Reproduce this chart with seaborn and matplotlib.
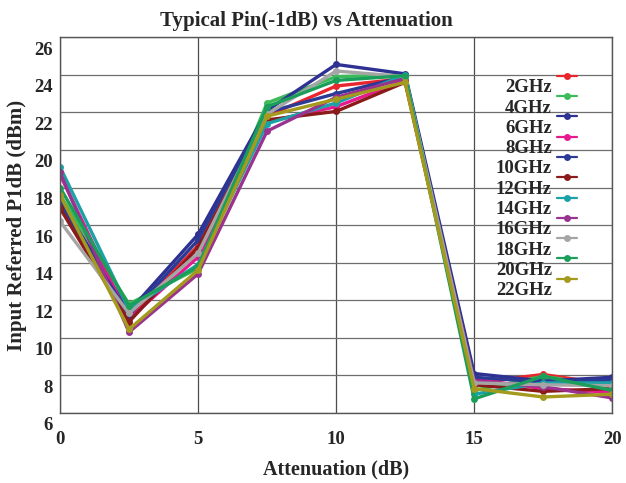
import matplotlib
matplotlib.use("Agg")
import matplotlib.pyplot as plt
import matplotlib.transforms as mtransforms
import pandas as pd
import seaborn as sns

# attenuation settings (dB)
attenuation = [0, 2.5, 5, 7.5, 10, 12.5, 15, 17.5, 20]
freqs = ["2GHz", "4GHz", "6GHz", "8GHz", "10GHz", "12GHz",
         "14GHz", "16GHz", "18GHz", "20GHz", "22GHz"]

# input referred P1dB (dBm)
p1db_2 = [17.1, 11.1, 14.9, 21.8, 23.4, 23.8, 7.6, 8.05, 7.5]
p1db_4 = [17.6, 11.8, 13.7, 22.5, 23.9, 24.0, 7.2, 7.95, 7.4]
p1db_6 = [17.3, 11.4, 15.5, 22.1, 24.55, 24.05, 8.1, 7.7, 7.9]
p1db_8 = [18.7, 11.0, 14.3, 21.5, 22.3, 23.7, 7.8, 7.3, 7.1]
p1db_10 = [17.2, 11.2, 15.2, 22.0, 23.0, 23.9, 7.9, 7.65, 7.75]
p1db_12 = [16.9, 10.85, 14.8, 21.6, 22.05, 23.6, 7.5, 7.15, 7.3]
p1db_14 = [19.1, 11.5, 13.9, 21.4, 22.5, 24.0, 7.0, 7.6, 7.6]
p1db_16 = [18.8, 10.3, 13.4, 21.0, 22.8, 23.8, 7.7, 7.4, 6.8]
p1db_18 = [16.2, 11.3, 14.5, 21.9, 24.2, 23.9, 7.6, 7.5, 7.45]
p1db_20 = [18.0, 11.7, 13.8, 22.3, 23.7, 23.95, 6.75, 7.95, 7.2]
p1db_22 = [17.6, 10.45, 13.6, 21.8, 22.7, 23.6, 7.3, 6.85, 7.0]

colors = ["#e8262d", "#3dbb5a", "#2e3192", "#e6198f", "#2a3a95", "#8b1a1a",
          "#1ba1a6", "#99338f", "#a5a5a5", "#1b9e5a", "#a39a1e"]

series = [p1db_2, p1db_4, p1db_6, p1db_8, p1db_10, p1db_12,
          p1db_14, p1db_16, p1db_18, p1db_20, p1db_22]

rows = []
for f, vals in zip(freqs, series):
    for a, v in zip(attenuation, vals):
        rows.append({"freq": f, "atten": a, "p1db": v})
df = pd.DataFrame(rows)

sns.set_style("white")
plt.rcParams["font.family"] = ["Liberation Serif", "DejaVu Serif"]
plt.rcParams["font.weight"] = "bold"

fig = plt.figure(figsize=(6.26, 4.83), dpi=100)
ax = fig.add_axes([0.0958, 0.145, 0.978 - 0.0958, 0.923 - 0.145])

sns.lineplot(data=df, x="atten", y="p1db", hue="freq", hue_order=freqs,
             palette=colors, marker="o", markersize=5, markeredgewidth=0,
             linewidth=2.4, sort=False, legend=False, ax=ax)

ax.set_xlim(0, 20)
ax.set_ylim(6, 26)
ax.set_xticks([0, 5, 10, 15, 20])
ax.set_yticks(range(6, 27, 2))
for x in [0, 5, 10, 15, 20]:
    ax.axvline(x, color="#4d4d4d", lw=0.9, zorder=0)
for y in range(6, 27, 2):
    ax.axhline(y, color="#6e6e6e", lw=0.9, zorder=0)
for s in ax.spines.values():
    s.set_color("#555555")
    s.set_linewidth(1)

ax.tick_params(axis="x", length=0, pad=13, labelsize=13.5)
ax.tick_params(axis="y", length=0, pad=5, labelsize=13.5)
offset = mtransforms.ScaledTranslation(0, -0.11, fig.dpi_scale_trans)
for lab in ax.get_yticklabels():
    lab.set_transform(lab.get_transform() + offset)
    lab.set_fontweight("bold")
for lab in ax.get_xticklabels():
    lab.set_fontweight("bold")

ax.set_xlabel("Attenuation (dB)", fontsize=14.5, fontweight="bold", labelpad=8)
ax.set_ylabel("Input Referred P1dB (dBm)", fontsize=15, fontweight="bold", labelpad=5)
fig.suptitle("Typical Pin(-1dB) vs Attenuation", x=0.49, y=0.978,
             fontsize=15, fontweight="bold")

leg = ax.legend(ax.lines[:len(freqs)], freqs, loc="upper right",
                bbox_to_anchor=(0.922, 0.857), bbox_transform=fig.transFigure,
                frameon=False, markerfirst=False, handlelength=1.1,
                handletextpad=0.25, labelspacing=0.17, borderpad=0,
                borderaxespad=0, prop={"weight": "bold", "size": 13.5})
for h in leg.get_lines():
    h.set_linewidth(1.6)
loff = mtransforms.ScaledTranslation(0, -0.1, fig.dpi_scale_trans)
for t in leg.get_texts():
    t.set_transform(t.get_transform() + loff)

fig.savefig("out.png", dpi=100)
